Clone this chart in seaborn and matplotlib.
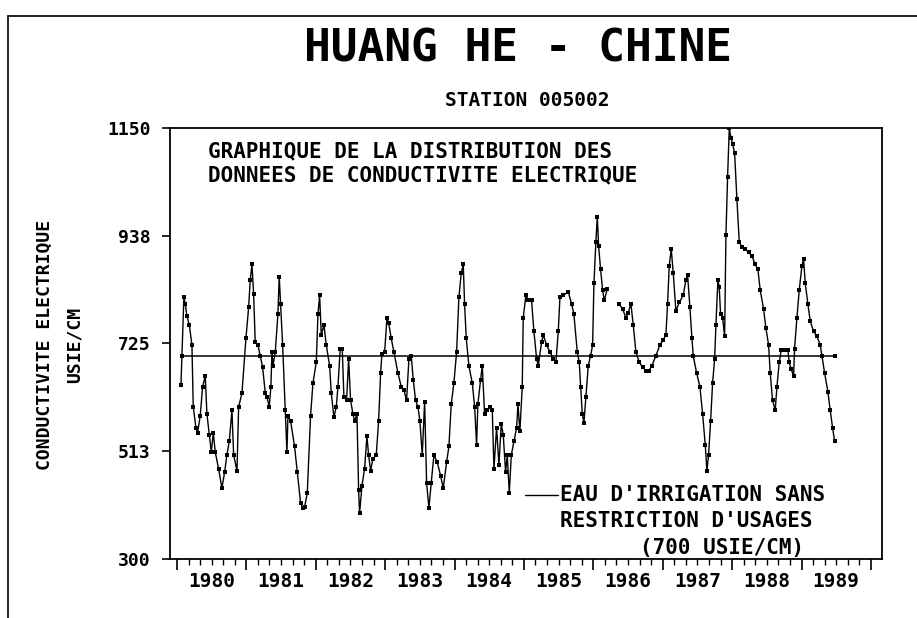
import numpy as np
import pandas as pd
import matplotlib
matplotlib.use("Agg")
import matplotlib.pyplot as plt
from matplotlib.lines import Line2D
from matplotlib.transforms import blended_transform_factory
import seaborn as sns

# Sampling dates (decimal years) and electrical conductivity (uS/cm)
dates = [
    1980.058, 1980.072, 1980.100, 1980.120, 1980.144, 1980.178, 1980.216, 1980.235,
    1980.274, 1980.298, 1980.336, 1980.370, 1980.408, 1980.432, 1980.466, 1980.495,
    1980.524, 1980.552, 1980.600, 1980.648, 1980.687, 1980.720, 1980.754, 1980.793,
    1980.817, 1980.865, 1980.889, 1980.937, 1980.994,
    1981.033, 1981.056, 1981.081, 1981.105, 1981.128, 1981.167, 1981.200, 1981.235,
    1981.273, 1981.297, 1981.330, 1981.354, 1981.369, 1981.383, 1981.417, 1981.455,
    1981.474, 1981.494, 1981.523, 1981.560, 1981.585, 1981.600, 1981.638, 1981.695,
    1981.734, 1981.782, 1981.816, 1981.840, 1981.878, 1981.926, 1981.960,
    1982.008, 1982.032, 1982.056, 1982.080, 1982.118, 1982.152, 1982.200, 1982.224,
    1982.262, 1982.296, 1982.320, 1982.353, 1982.382, 1982.406, 1982.445, 1982.474,
    1982.502, 1982.536, 1982.560, 1982.594, 1982.618, 1982.632, 1982.666, 1982.704,
    1982.738, 1982.762, 1982.791, 1982.824, 1982.872, 1982.906, 1982.935, 1982.954,
    1982.993,
    1983.026, 1983.050, 1983.088, 1983.127, 1983.184, 1983.232, 1983.271, 1983.309,
    1983.343, 1983.376, 1983.405, 1983.439, 1983.473, 1983.501, 1983.535, 1983.569,
    1983.598, 1983.631, 1983.664, 1983.703, 1983.751, 1983.800, 1983.837, 1983.886,
    1983.919, 1983.953, 1983.991,
    1984.030, 1984.063, 1984.097, 1984.126, 1984.145, 1984.169, 1984.207, 1984.256,
    1984.290, 1984.318, 1984.337, 1984.376, 1984.400, 1984.433, 1984.472, 1984.510,
    1984.544, 1984.568, 1984.606, 1984.640, 1984.673, 1984.702, 1984.736, 1984.760,
    1984.789, 1984.818, 1984.856, 1984.895, 1984.914, 1984.942, 1984.976, 1984.990,
    1985.029, 1985.062, 1985.110, 1985.144, 1985.183, 1985.207, 1985.255, 1985.279,
    1985.327, 1985.375, 1985.423, 1985.461, 1985.495, 1985.519, 1985.567, 1985.639,
    1985.687, 1985.720, 1985.769, 1985.797, 1985.817, 1985.841, 1985.865, 1985.893,
    1985.927, 1985.961, 1985.990,
    1986.009, 1986.037, 1986.057, 1986.076, 1986.105, 1986.134, 1986.158, 1986.201,
    1986.374, 1986.422, 1986.470, 1986.503, 1986.542, 1986.575, 1986.614, 1986.662,
    1986.710, 1986.758, 1986.797, 1986.844, 1986.902, 1986.960,
    1987.008, 1987.046, 1987.070, 1987.094, 1987.123, 1987.152, 1987.190, 1987.238,
    1987.296, 1987.334, 1987.358, 1987.392, 1987.421, 1987.440, 1987.488, 1987.536,
    1987.575, 1987.613, 1987.637, 1987.661, 1987.690, 1987.719, 1987.748, 1987.767,
    1987.795, 1987.814, 1987.834, 1987.863, 1987.892, 1987.911, 1987.935, 1987.959,
    1987.983,
    1988.007, 1988.036, 1988.069, 1988.103, 1988.141, 1988.189, 1988.237, 1988.285,
    1988.333, 1988.372, 1988.405, 1988.454, 1988.487, 1988.526, 1988.549, 1988.583,
    1988.621, 1988.646, 1988.679, 1988.708, 1988.756, 1988.804, 1988.823, 1988.852,
    1988.886, 1988.900, 1988.934, 1988.967,
    1989.006, 1989.030, 1989.054, 1989.092, 1989.126, 1989.174, 1989.222, 1989.270,
    1989.294, 1989.333, 1989.380, 1989.414, 1989.448, 1989.477,
]

conductivity = [
    644, 701, 816, 803, 779, 762, 722, 600,
    559, 549, 583, 640, 661, 586, 545, 511,
    549, 511, 478, 440, 471, 505, 532, 593,
    505, 474, 600, 627, 735,
    796, 850, 881, 823, 728, 722, 701, 678,
    627, 620, 600, 640, 708, 681, 708, 783,
    857, 803, 722, 593, 511, 583, 572, 522,
    471, 410, 400, 403, 430, 583, 647,
    688, 783, 820, 742, 762, 722, 681, 627,
    580, 600, 640, 715, 715, 620, 613, 695,
    613, 586, 572, 586, 437, 390, 444, 478,
    542, 505, 474, 498, 505, 572, 667, 705,
    708,
    776, 766, 735, 708, 667, 640, 633, 613,
    695, 701, 654, 613, 600, 572, 505, 610,
    450, 400, 450, 505, 491, 464, 440, 491,
    522, 606, 647,
    708, 816, 864, 881, 803, 735, 681, 647,
    600, 525, 606, 654, 681, 586, 593, 600,
    593, 478, 559, 485, 566, 545, 471, 505,
    430, 505, 532, 559, 606, 552, 640, 776,
    820, 810, 810, 749, 695, 681, 728, 742,
    722, 708, 695, 688, 749, 816, 820, 827,
    803, 783, 708, 688, 640, 586, 569, 620,
    681, 701, 722,
    844, 925, 975, 918, 871, 830, 810, 833,
    803, 793, 776, 786, 803, 762, 708, 688,
    678, 671, 671, 681, 701, 722,
    732, 742, 803, 878, 911, 864, 789, 806,
    820, 850, 861, 796, 735, 701, 667, 640,
    586, 525, 474, 505, 572, 647, 695, 762,
    850, 837, 783, 776, 739, 938, 1053, 1150,
    1131,
    1119, 1101, 1010, 925, 915, 911, 905, 898,
    881, 871, 830, 793, 755, 722, 667, 613,
    593, 640, 688, 712, 712, 712, 688, 674,
    661, 715, 776, 830,
    878, 891, 844, 803, 769, 749, 739, 722,
    701, 667, 630, 593, 559, 532,
]

# No samples were taken in spring 1986: the record is drawn in two pieces
gap_start = 1986.30

threshold = 700  # unrestricted irrigation water limit, uS/cm
y_ticks = [300, 512.5, 725, 937.5, 1150]
y_tick_labels = ["300", "513", "725", "938", "1150"]
years = list(range(1980, 1990))

sns.set_style("ticks")
plt.rcParams["font.family"] = ["DejaVu Sans Mono", "DejaVu Sans"]
plt.rcParams["font.weight"] = "bold"
plt.rcParams["text.color"] = "black"
plt.rcParams["axes.labelcolor"] = "black"
plt.rcParams["xtick.color"] = "black"
plt.rcParams["ytick.color"] = "black"
plt.rcParams["axes.edgecolor"] = "black"

W, H = 917, 618
fig = plt.figure(figsize=(W / 100, H / 100), dpi=100)
ax = fig.add_axes([170 / W, 1 - 559 / H, 712 / W, 431 / H])

df = pd.DataFrame({"date": dates, "value": conductivity})
df["segment"] = np.where(df["date"] < gap_start, 1, 2)
sns.lineplot(data=df, x="date", y="value", units="segment", estimator=None,
             color="black", lw=1.0, marker="s", markersize=2.6,
             markeredgewidth=0, ax=ax, legend=False)

ref = pd.DataFrame({"date": [dates[0], dates[-1]], "value": [threshold, threshold]})
sns.lineplot(data=ref, x="date", y="value", color="black", lw=1.1,
             marker="s", markersize=2.6, markeredgewidth=0, markevery=[1],
             ax=ax, legend=False)

ax.set_xlim(1979.90, 1990.16)
ax.set_ylim(300, 1150)
ax.set_xlabel("")
ax.set_ylabel("")
for s in ax.spines.values():
    s.set_visible(True)
    s.set_color("black")
    s.set_linewidth(1.3)

# Year boundaries as long ticks, two-month steps as short ticks
ax.set_xticks(list(range(1980, 1991)))
ax.set_xticklabels([])
ax.set_xticks(np.arange(1980, 1990.01, 1 / 6), minor=True)
ax.tick_params(axis="x", which="major", direction="out", length=8, width=1.2,
               color="black", bottom=True, top=False)
ax.tick_params(axis="x", which="minor", direction="out", length=4.5, width=1.0,
               color="black", bottom=True, top=False)
ax.set_yticks(y_ticks)
ax.set_yticklabels(y_tick_labels, fontsize=13, fontweight="bold", color="black")
ax.tick_params(axis="y", which="major", direction="out", length=6, width=1.2,
               color="black", pad=8, left=True, right=False)

# Year labels centred on each calendar year
trans = blended_transform_factory(ax.transData, ax.transAxes)
for yr in years:
    ax.text(yr + 0.5, -0.03, str(yr), transform=trans, ha="center", va="top",
            fontsize=14, fontweight="bold", color="black")

ax.text((208 - 170) / 712, (559 - 141) / 431,
        "GRAPHIQUE DE LA DISTRIBUTION DES\nDONNEES DE CONDUCTIVITE ELECTRIQUE",
        transform=ax.transAxes, ha="left", va="top", fontsize=15,
        fontweight="bold", linespacing=1.25, color="black")

# Threshold legend
ax.add_line(Line2D([(525 - 170) / 712, (558 - 170) / 712],
                   [(559 - 495) / 431] * 2, transform=ax.transAxes,
                   color="black", lw=1.0))
ax.text((560 - 170) / 712, (559 - 495) / 431, "EAU D'IRRIGATION SANS",
        transform=ax.transAxes, ha="left", va="center", fontsize=15,
        fontweight="bold", color="black")
ax.text((560 - 170) / 712, (559 - 521) / 431, "RESTRICTION D'USAGES",
        transform=ax.transAxes, ha="left", va="center", fontsize=15,
        fontweight="bold", color="black")
ax.text((722 - 170) / 712, (559 - 548) / 431, "(700 USIE/CM)",
        transform=ax.transAxes, ha="center", va="center", fontsize=15,
        fontweight="bold", color="black")

fig.text(517.5 / W, 1 - 49 / H, "HUANG HE - CHINE", ha="center", va="center",
         fontsize=32, fontweight="bold", color="black")
fig.text(527 / W, 1 - 100 / H, "STATION 005002", ha="center", va="center",
         fontsize=14, fontweight="bold", color="black")
fig.text(45 / W, 1 - 345 / H, "CONDUCTIVITE ELECTRIQUE", rotation=90,
         ha="center", va="center", fontsize=13, fontweight="bold", color="black")
fig.text(75 / W, 1 - 345 / H, "USIE/CM", rotation=90,
         ha="center", va="center", fontsize=13, fontweight="bold", color="black")

# Page frame
fig.add_artist(Line2D([8 / W, 1], [1 - 16 / H] * 2, transform=fig.transFigure,
                      color="black", lw=1.2))
fig.add_artist(Line2D([8 / W] * 2, [0, 1 - 16 / H], transform=fig.transFigure,
                      color="black", lw=1.2))

fig.savefig("out.png", dpi=100)
